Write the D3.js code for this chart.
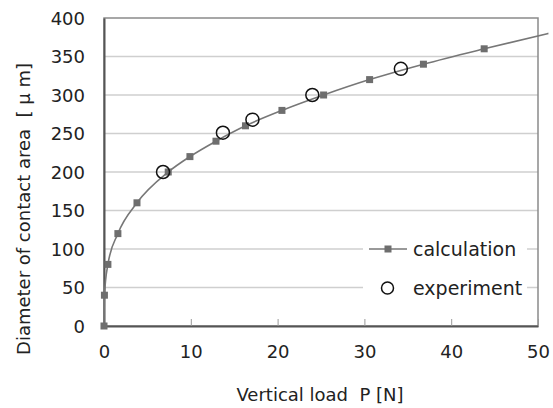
<!DOCTYPE html>
<meta charset="UTF-8">
<style>
body { margin: 0; background: #fff; }
text { font-family: "DejaVu Sans", sans-serif; fill: #222; }
.grid line { stroke: #cfcfcf; stroke-width: 1.5px; }
.title { white-space: pre; }
</style>
<body>
<script src="https://d3js.org/d3.v7.min.js"></script>
<script>

// calculation series (load P [N], diameter [um])
var calcP = [0, 0.05, 0.45, 1.6, 3.8, 7.4, 9.9, 12.9, 16.3, 20.5, 25.3, 30.6, 36.8, 43.8, 51.2];
var calcD = [0, 40, 80, 120, 160, 200, 220, 240, 260, 280, 300, 320, 340, 360, 380];
// experiment series
var expP = [6.8, 13.7, 17.1, 24.0, 34.2];
var expD = [200, 251, 268, 300, 334];

var xTicks = [0, 10, 20, 30, 40, 50];
var yTicks = [0, 50, 100, 150, 200, 250, 300, 350, 400];

var margin = {top: 18, right: 15, bottom: 82, left: 104},
    width = 553 - margin.left - margin.right,
    height = 408 - margin.top - margin.bottom;

var svg = d3.select("body").append("svg")
    .attr("width", 553)
    .attr("height", 408);

var g = svg.append("g")
    .attr("transform", "translate(" + margin.left + "," + margin.top + ")");

var x = d3.scaleLinear().domain([0, 50]).range([0, width]);
var y = d3.scaleLinear().domain([0, 400]).range([height, 0]);

// gridlines
g.append("g").attr("class", "grid")
  .selectAll("line")
  .data(yTicks.filter(function(d) { return d > 0 && d < 400; }))
  .enter().append("line")
    .attr("x1", 0).attr("x2", width)
    .attr("y1", function(d) { return y(d); })
    .attr("y2", function(d) { return y(d); });

// plot border
g.append("rect")
    .attr("width", width).attr("height", height)
    .attr("fill", "none").attr("stroke", "#8a8a8a").attr("stroke-width", 1.5);

// x axis with inner ticks
var xAxis = g.append("g")
    .attr("transform", "translate(0," + height + ")")
    .call(d3.axisBottom(x).tickValues(xTicks).tickSizeInner(-7).tickSizeOuter(0).tickPadding(19));
xAxis.select(".domain").attr("stroke", "#555").attr("stroke-width", 2);
xAxis.selectAll(".tick line").attr("stroke", "#999");
xAxis.selectAll("text").style("font-size", "18px").attr("fill", "#222");

var yAxis = g.append("g")
    .call(d3.axisLeft(y).tickValues(yTicks).tickSize(0).tickPadding(19));
yAxis.select(".domain").attr("stroke", "#555").attr("stroke-width", 2);
yAxis.selectAll("text").style("font-size", "18px").attr("fill", "#222").attr("dy", "0.36em");

// calculation line
var calc = calcP.map(function(p, i) { return {p: p, d: calcD[i]}; });
var line = d3.line()
    .curve(d3.curveMonotoneX)
    .x(function(d) { return x(d.p); })
    .y(function(d) { return y(d.d); });

g.append("path")
    .datum(calc)
    .attr("fill", "none")
    .attr("stroke", "#777")
    .attr("stroke-width", 1.6)
    .attr("d", line);

g.selectAll("rect.sq")
  .data(calc.filter(function(d) { return d.p <= 50; }))
  .enter().append("rect")
    .attr("class", "sq")
    .attr("x", function(d) { return x(d.p) - 3.5; })
    .attr("y", function(d) { return y(d.d) - 3.5; })
    .attr("width", 7).attr("height", 7)
    .attr("fill", "#6e6e6e");

// experiment circles
var exp = expP.map(function(p, i) { return {p: p, d: expD[i]}; });
g.selectAll("circle.ex")
  .data(exp)
  .enter().append("circle")
    .attr("class", "ex")
    .attr("cx", function(d) { return x(d.p); })
    .attr("cy", function(d) { return y(d.d); })
    .attr("r", 6.5)
    .attr("fill", "none")
    .attr("stroke", "#111")
    .attr("stroke-width", 1.5);

// legend
var leg = svg.append("g");
leg.append("rect")
    .attr("x", 363).attr("y", 233).attr("width", 164).attr("height", 68)
    .attr("fill", "#fff");
leg.append("line")
    .attr("x1", 369).attr("x2", 407).attr("y1", 249).attr("y2", 249)
    .attr("stroke", "#777").attr("stroke-width", 1.6);
leg.append("rect")
    .attr("x", 384.5).attr("y", 245.5).attr("width", 7).attr("height", 7)
    .attr("fill", "#6e6e6e");
leg.append("text")
    .attr("x", 413).attr("y", 255.5)
    .style("font-size", "19px")
    .text("calculation");
leg.append("circle")
    .attr("cx", 387.5).attr("cy", 288).attr("r", 6)
    .attr("fill", "none").attr("stroke", "#111").attr("stroke-width", 1.5);
leg.append("text")
    .attr("x", 413).attr("y", 294.5)
    .style("font-size", "19px")
    .text("experiment");

// axis titles
svg.append("text")
    .attr("class", "title")
    .attr("x", 320).attr("y", 401)
    .attr("text-anchor", "middle")
    .style("font-size", "18px")
    .text("Vertical load  P [N]");

svg.append("text")
    .attr("class", "title")
    .attr("transform", "translate(30,209) rotate(-90)")
    .attr("text-anchor", "middle")
    .style("font-size", "18px")
    .text("Diameter of contact area  [ \u03bc m]");

</script>
</body>
